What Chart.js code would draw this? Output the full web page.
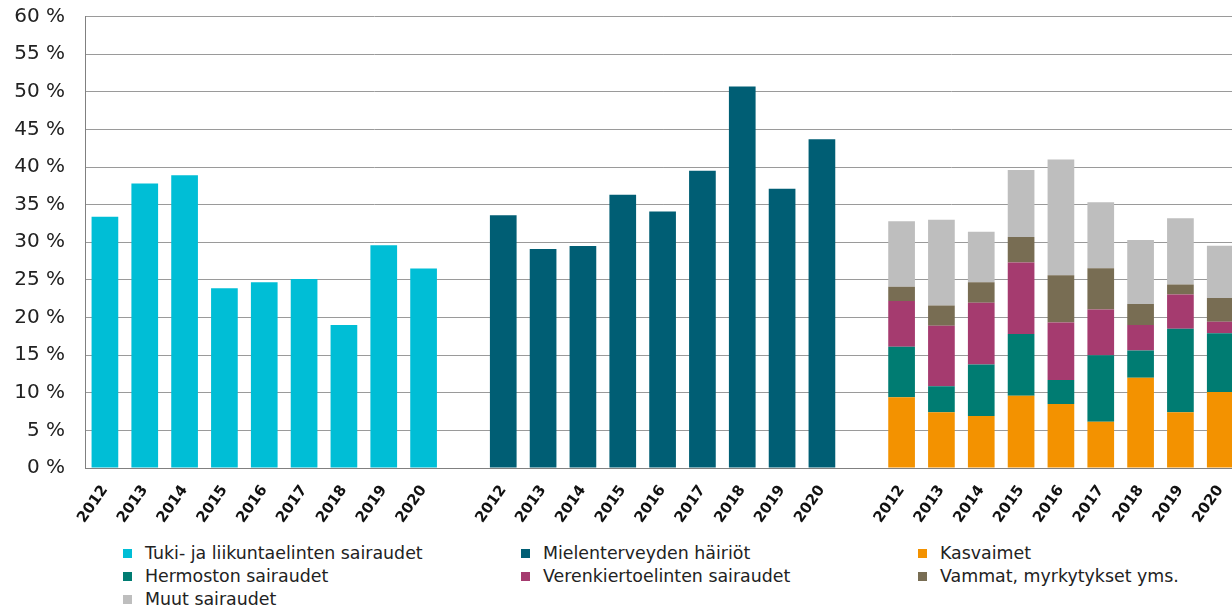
<!DOCTYPE html>
<html>
<head>
<meta charset="utf-8">
<script src="https://cdn.jsdelivr.net/npm/chart.js@4"></script>
<style>
  html, body { margin: 0; padding: 0; background: #fff; overflow: hidden; }
  body { width: 1232px; height: 606px; position: relative; font-family: "DejaVu Sans", Verdana, sans-serif; color: #222; }
  #wrap { position: absolute; left: 0; top: 0; width: 1241px; height: 540px; }
  .lg { position: absolute; font-size: 17.4px; white-space: nowrap; line-height: 20px; }
  .lg i { position: absolute; left: -22px; top: 6px; width: 9px; height: 9px; }
</style>
</head>
<body>
<div id="wrap"><canvas id="chart"></canvas></div>
<div id="legend"></div>
<script>
const years = ['2012', '2013', '2014', '2015', '2016', '2017', '2018', '2019', '2020'];

// group 1
const tuki = [33.4, 37.8, 38.9, 23.9, 24.7, 25.1, 19.0, 29.6, 26.5];
// group 2
const mielenterveys = [33.6, 29.1, 29.5, 36.3, 34.1, 39.5, 50.7, 37.1, 43.7];
// group 3 (stacked)
const kasvaimet = [9.4, 7.4, 6.9, 9.6, 8.5, 6.15, 12.0, 7.4, 10.1];
const hermosto = [6.7, 3.45, 6.85, 8.2, 3.2, 8.85, 3.6, 11.1, 7.8];
const verenkierto = [6.1, 8.05, 8.2, 9.5, 7.65, 6.05, 3.4, 4.55, 1.55];
const vammat = [1.9, 2.7, 2.75, 3.4, 6.25, 5.5, 2.8, 1.35, 3.15];
const muut = [8.7, 11.4, 6.7, 8.9, 15.4, 8.75, 8.5, 8.8, 6.95];

const yTicks = [0, 5, 10, 15, 20, 25, 30, 35, 40, 45, 50, 55, 60];

// 3 groups of years with one empty slot between them
const labels = [...years, '', ...years, '', ...years];
function inGroup(values, g) {
  const out = new Array(labels.length).fill(null);
  values.forEach((v, i) => { out[g * 10 + i] = v; });
  return out;
}

const series = [
  { label: 'Tuki- ja liikuntaelinten sairaudet', values: tuki, group: 0, color: '#00BED6' },
  { label: 'Mielenterveyden häiriöt', values: mielenterveys, group: 1, color: '#005E74' },
  { label: 'Kasvaimet', values: kasvaimet, group: 2, color: '#F39200' },
  { label: 'Hermoston sairaudet', values: hermosto, group: 2, color: '#007C72' },
  { label: 'Verenkiertoelinten sairaudet', values: verenkierto, group: 2, color: '#A53B6F' },
  { label: 'Vammat, myrkytykset yms.', values: vammat, group: 2, color: '#786D53' },
  { label: 'Muut sairaudet', values: muut, group: 2, color: '#BEBEBE' }
];

const FONT = '"DejaVu Sans", Verdana, sans-serif';

new Chart(document.getElementById('chart'), {
  type: 'bar',
  data: {
    labels: labels,
    datasets: series.map(s => ({
      label: s.label,
      data: inGroup(s.values, s.group),
      backgroundColor: s.color,
      borderWidth: 0,
      categoryPercentage: 1,
      barPercentage: 0.67
    }))
  },
  options: {
    responsive: true,
    maintainAspectRatio: false,
    animation: false,
    layout: { padding: { top: 16.5, right: 0, bottom: 0, left: 0 } },
    plugins: {
      legend: { display: false },
      tooltip: { enabled: false }
    },
    scales: {
      x: {
        stacked: true,
        grid: { display: false },
        border: { display: true, color: '#808080', width: 1 },
        ticks: {
          autoSkip: false,
          maxRotation: 55,
          minRotation: 55,
          padding: 6,
          color: '#111',
          font: { family: FONT, size: 15, weight: 'bold' }
        },
        afterFit(scale) { scale.height = 72; }
      },
      y: {
        stacked: true,
        min: 0,
        max: 60,
        afterBuildTicks(scale) { scale.ticks = yTicks.map(v => ({ value: v })); },
        grid: { color: '#9a9a9a', lineWidth: 1, drawTicks: false },
        border: { display: true, color: '#808080', width: 1 },
        ticks: {
          padding: 20,
          color: '#222',
          font: { family: FONT, size: 20 },
          callback: v => v + ' %'
        },
        afterFit(scale) {
          scale.width = 85;
          // tick padding should not push the plot down
          scale.paddingTop = 0;
          scale.paddingBottom = 0;
        }
      }
    }
  }
});

// legend in three columns, like the original
const cols = [145, 543, 940];
const rows = [543, 566, 589];
const legend = document.getElementById('legend');
series.forEach((s, i) => {
  const d = document.createElement('div');
  d.className = 'lg';
  d.style.left = cols[i % 3] + 'px';
  d.style.top = rows[Math.floor(i / 3)] + 'px';
  d.innerHTML = '<i style="background:' + s.color + '"></i>' + s.label;
  legend.appendChild(d);
});
</script>
</body>
</html>
